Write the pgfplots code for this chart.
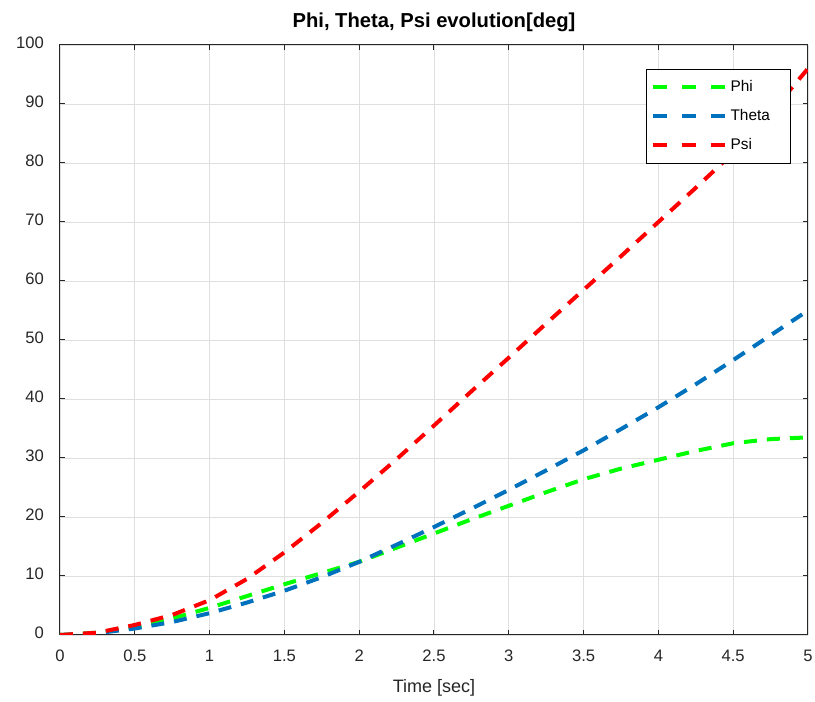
\documentclass[border=0pt]{standalone}
\usepackage{fontspec}
\setmainfont{Liberation Sans}
\usepackage{pgfplots}
\pgfplotsset{compat=1.18}
\definecolor{phicol}{RGB}{0,255,0}
\definecolor{thetacol}{RGB}{0,114,189}
\definecolor{psicol}{RGB}{255,0,0}
\definecolor{axcol}{RGB}{38,38,38}
\definecolor{gridcol}{RGB}{223,223,223}
\newcommand{\legtxt}[1]{\makebox[26pt][l]{#1}}
\begin{document}
\begin{tikzpicture}
\path[use as bounding box] (-30pt,-33.5pt) rectangle (377.5pt,317.5pt);
\begin{axis}[
  at={(0,0)}, anchor=south west,
  scale only axis, width=374pt, height=295pt,
  xmin=0, xmax=5, ymin=0, ymax=100,
  xtick={0,0.5,...,5}, ytick={0,10,...,100},
  xticklabels={0,0.5,1,1.5,2,2.5,3,3.5,4,4.5,5},
  grid=major,
  major grid style={gridcol, line width=0.4pt},
  axis line style={axcol, line width=0.5pt},
  tick style={axcol, line width=0.5pt},
  major tick length=2.5pt,
  tick align=inside,
  xtick pos=both, ytick pos=both,
  /pgf/number format/assume math mode=true,
  tick label style={font=\fontsize{8.3}{9}\selectfont, text=axcol},
  xticklabel style={yshift=-4pt},
  yticklabel style={xshift=-4.5pt, yshift=1pt},
  title={\textbf{Phi, Theta, Psi evolution[deg]}},
  title style={anchor=base, yshift=2.5pt, font=\fontsize{10.1}{11}\selectfont},
  xlabel={Time [sec]},
  xlabel style={at={(0.5,0)}, anchor=base, yshift=-29pt, font=\fontsize{9}{10}\selectfont, text=axcol},
  legend style={at={(1,1)}, anchor=north east, xshift=-8.5pt, yshift=-11.8pt,
    font=\fontsize{7.7}{8.5}\selectfont, draw=black, line width=0.4pt,
    inner xsep=2pt, inner ysep=3.5pt, row sep=3.5pt},
  legend cell align=left,
  legend image code/.code={\draw[#1, dash pattern=on 7pt off 7.5pt] (0pt,0pt) -- (36pt,0pt);},
  every axis plot/.append style={line width=2pt, dash pattern=on 6.5pt off 5pt},
]
\addplot[phicol] coordinates {(0,0) (0.25,0.4) (0.5,1.3) (0.75,2.8) (1,4.6) (1.25,6.6) (1.5,8.6) (1.75,10.5) (2,12.4) (2.25,14.8) (2.5,17.2) (2.75,19.6) (3,21.9) (3.25,24.2) (3.5,26.4) (3.75,28.2) (4,29.7) (4.25,31.2) (4.5,32.5) (4.75,33.2) (5,33.5)};
\addlegendentry{\legtxt{Phi}}
\addplot[thetacol] coordinates {(0,0) (0.25,0.3) (0.5,1.1) (0.75,2.2) (1,3.7) (1.25,5.5) (1.5,7.5) (1.75,9.8) (2,12.4) (2.25,15.3) (2.5,18.3) (2.75,21.4) (3,24.6) (3.25,27.9) (3.5,31.3) (3.75,34.9) (4,38.6) (4.25,42.5) (4.5,46.6) (4.75,50.8) (5,55)};
\addlegendentry{\legtxt{Theta}}
\addplot[psicol] coordinates {(0,0) (0.25,0.4) (0.5,1.7) (0.75,3.4) (1,5.9) (1.25,9.5) (1.5,14) (1.75,19) (2,24.3) (2.25,29.8) (2.5,35.5) (2.75,41.3) (3,47) (3.25,52.8) (3.5,58.5) (3.75,64.2) (4,70) (4.25,75.8) (4.5,81.7) (4.75,88.5) (5,96)};
\addlegendentry{\legtxt{Psi}}
\end{axis}
\end{tikzpicture}
\end{document}
